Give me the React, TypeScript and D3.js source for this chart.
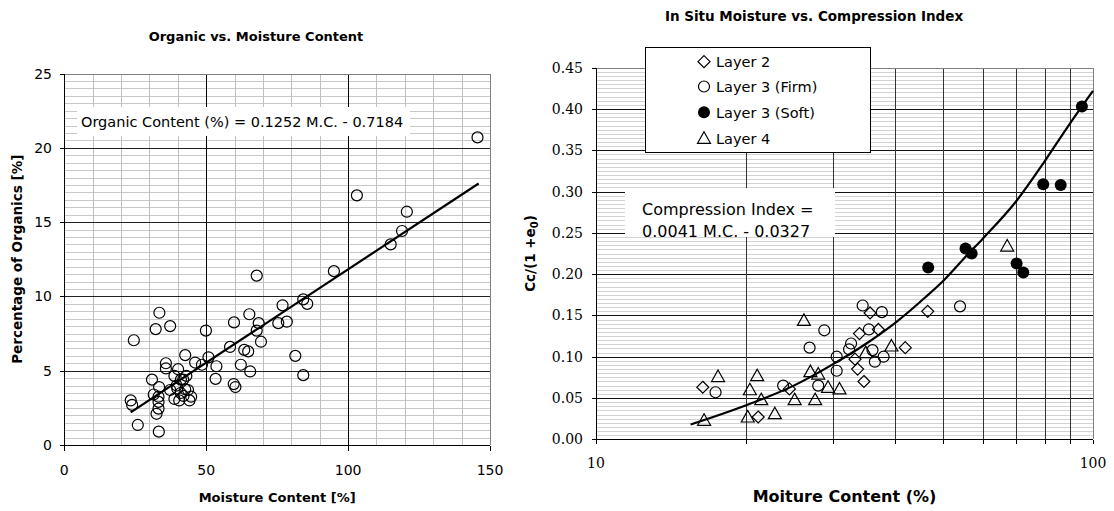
import React from 'react';
import * as d3 from 'd3';

// left chart: moisture content [%] vs percentage of organics [%]
const organicPoints = [
  [145.6, 20.7], [103.1, 16.8], [120.7, 15.7], [119, 14.4], [115, 13.5], [95, 11.7],
  [67.8, 11.4], [84.2, 9.8], [85.6, 9.5], [76.9, 9.4], [75.4, 8.2], [78.4, 8.3],
  [65.2, 8.8], [59.8, 8.25], [68.5, 8.2], [67.8, 7.7], [69.3, 6.95], [49.9, 7.7],
  [58.4, 6.6], [63.4, 6.4], [64.8, 6.3], [81.4, 6.0], [84.2, 4.7], [62.2, 5.4],
  [65.5, 4.95], [53.6, 5.3], [53.3, 4.45], [59.7, 4.1], [60.3, 3.9], [50.8, 5.9],
  [48.5, 5.4], [46.1, 5.55], [42.6, 6.05], [33.5, 8.9], [32.2, 7.8], [37.3, 8.0],
  [24.5, 7.05], [35.8, 5.5], [35.8, 5.15], [40.1, 5.1], [38.8, 4.65], [43.0, 4.65],
  [41.1, 4.4], [30.9, 4.4], [33.4, 3.9], [31.5, 3.4], [33.2, 3.25], [23.4, 3.0],
  [23.9, 2.7], [33.2, 2.9], [33.2, 2.45], [32.5, 2.1], [25.9, 1.35], [33.3, 0.9],
  [37.3, 3.7], [38.8, 3.1], [40.5, 3.0], [41.0, 3.5], [42.6, 3.75], [43.6, 3.7],
  [44.7, 3.25], [44.1, 3.0], [42.0, 3.3], [39.8, 3.8], [39.6, 4.0], [41.9, 4.4],
];
const organicTrend = [[23.4, 2.2], [146, 17.6]];
const organicXTicks = [0, 50, 100, 150];
const organicYTicks = [0, 5, 10, 15, 20, 25];

// right chart: moisture content (%) vs Cc/(1+e0), by layer
const layer2 = [
  [16.4, 0.063], [21.2, 0.027], [24.5, 0.061], [46.5, 0.155], [41.9, 0.111], [34.6, 0.070],
  [33.6, 0.085], [33.2, 0.097], [33.9, 0.128], [35.6, 0.153], [37.0, 0.133],
];
const layer3Firm = [
  [17.4, 0.057], [23.8, 0.065], [26.9, 0.111], [28.8, 0.132], [28.0, 0.065], [30.5, 0.100],
  [30.5, 0.083], [32.6, 0.116], [32.3, 0.109], [34.4, 0.162], [35.4, 0.133], [37.6, 0.154],
  [36.0, 0.108], [36.4, 0.094], [37.9, 0.100], [54.0, 0.161],
];
const layer3Soft = [
  [46.6, 0.208], [55.4, 0.231], [57.0, 0.225], [70.2, 0.213], [72.4, 0.202], [79.4, 0.309],
  [86.1, 0.308], [95.0, 0.403],
];
const layer4 = [
  [16.5, 0.023], [17.6, 0.076], [20.4, 0.060], [20.2, 0.027], [21.1, 0.077], [21.5, 0.048],
  [22.9, 0.031], [25.1, 0.048], [26.2, 0.144], [27.0, 0.082], [28.0, 0.079], [27.6, 0.048],
  [29.3, 0.063], [30.9, 0.061], [34.9, 0.105], [39.3, 0.113], [67.2, 0.234],
];
const ccTrend = [
  [15.5, 0.018], [20, 0.041], [25, 0.065], [30, 0.091], [35, 0.116], [40, 0.141], [46, 0.172],
  [50, 0.192], [56, 0.224], [60, 0.243], [70, 0.288], [80, 0.337], [90, 0.383], [100, 0.422],
];
const ccXTicks = [10, 20, 30, 40, 50, 60, 70, 80, 90, 100];
const ccXLabels = [10, 100];
const ccYTicks = [0, 0.05, 0.1, 0.15, 0.2, 0.25, 0.3, 0.35, 0.4, 0.45];
const legendItems = ['Layer 2', 'Layer 3 (Firm)', 'Layer 3 (Soft)', 'Layer 4'];

const SANS = "'DejaVu Sans', Verdana, sans-serif";
const SERIF = "'DejaVu Serif', serif";
const px = (v: number) => Math.round(v) + 0.5;

const Marker = ({ kind, x, y }: { kind: number; x: number; y: number }) => {
  if (kind === 0) {
    const s = 6;
    return <path d={`M${x},${y - s}L${x + s},${y}L${x},${y + s}L${x - s},${y}Z`} fill="none" stroke="#000" strokeWidth={1.2} />;
  }
  if (kind === 1) return <circle cx={x} cy={y} r={5.5} fill="none" stroke="#000" strokeWidth={1.2} />;
  if (kind === 2) return <circle cx={x} cy={y} r={6} fill="#000" />;
  return <path d={`M${x},${y - 6.5}L${x + 6.5},${y + 5}L${x - 6.5},${y + 5}Z`} fill="none" stroke="#000" strokeWidth={1.2} />;
};

const OrganicChart = () => {
  const x = d3.scaleLinear().domain([0, 150]).range([64.3, 490]);
  const y = d3.scaleLinear().domain([0, 25]).range([445, 73.5]);
  const [x0, x1] = x.range();
  const [y0, y1] = y.range();
  const line = d3.line().x(d => x(d[0])).y(d => y(d[1]));
  const minorV = d3.range(10, 150, 10).filter(v => v % 50 !== 0);
  const minorH = d3.range(1, 50).map(i => i * 0.5).filter(v => v % 5 !== 0);

  return (
    <g>
      <text x={256} y={41} textAnchor="middle" fontFamily={SANS} fontWeight="bold" fontSize={13}>Organic vs. Moisture Content</text>
      <g shapeRendering="crispEdges">
        {minorH.map(v => <line key={'h' + v} x1={x0} x2={x1} y1={px(y(v))} y2={px(y(v))} stroke="#c8c8c8" />)}
        {minorV.map(v => <line key={'v' + v} x1={px(x(v))} x2={px(x(v))} y1={y1} y2={y0} stroke="#c0c0c0" />)}
        {[5, 10, 15, 20].map(v => <line key={'H' + v} x1={x0} x2={x1} y1={px(y(v))} y2={px(y(v))} stroke="#222" />)}
        {[50, 100].map(v => <line key={'V' + v} x1={px(x(v))} x2={px(x(v))} y1={y1} y2={y0} stroke="#000" />)}
        <line x1={x0} x2={x1} y1={px(y1)} y2={px(y1)} stroke="#808080" />
        <line x1={px(x1)} x2={px(x1)} y1={y1} y2={y0} stroke="#808080" />
        <line x1={px(x0)} x2={px(x0)} y1={y1} y2={y0} stroke="#000" />
        <line x1={x0} x2={x1} y1={px(y0)} y2={px(y0)} stroke="#000" />
        {organicYTicks.map(v => <line key={'yt' + v} x1={px(x0) - 5} x2={px(x0)} y1={px(y(v))} y2={px(y(v))} stroke="#000" />)}
        {organicXTicks.map(v => <line key={'xt' + v} x1={px(x(v))} x2={px(x(v))} y1={px(y0)} y2={px(y0) + 5} stroke="#000" />)}
      </g>
      {organicYTicks.map(v => (
        <text key={'yl' + v} x={52} y={y(v)} dy="0.36em" textAnchor="end" fontFamily={SANS} fontSize={14}>{v}</text>
      ))}
      {organicXTicks.map(v => (
        <text key={'xl' + v} x={x(v)} y={470} dy="0.36em" textAnchor="middle" fontFamily={SANS} fontSize={14}>{v}</text>
      ))}
      <rect x={77} y={107} width={333} height={29} fill="#fff" />
      <text x={81} y={121.5} dy="0.36em" fontFamily={SANS} fontSize={14.5}>Organic Content (%) = 0.1252 M.C. - 0.7184</text>
      {organicPoints.map((d, i) => <circle key={i} cx={x(d[0])} cy={y(d[1])} r={5.5} fill="none" stroke="#000" strokeWidth={1.2} />)}
      <path d={line(organicTrend as [number, number][]) || ''} fill="none" stroke="#000" strokeWidth={2.2} />
      <text x={(x0 + x1) / 2} y={502} textAnchor="middle" fontFamily={SANS} fontWeight="bold" fontSize={13}>Moisture Content [%]</text>
      <text transform={`translate(22,${(y0 + y1) / 2}) rotate(-90)`} textAnchor="middle" fontFamily={SANS} fontWeight="bold" fontSize={13.5}>Percentage of Organics [%]</text>
    </g>
  );
};

const CompressionChart = () => {
  const x = d3.scaleLog().domain([10, 100]).range([596, 1093]);
  const y = d3.scaleLinear().domain([0, 0.45]).range([439.3, 67.7]);
  const [x0, x1] = x.range();
  const [y0, y1] = y.range();
  const fmt = d3.format('.2f');
  const curve = d3.line().x(d => x(d[0])).y(d => y(d[1])).curve(d3.curveMonotoneX);
  const minorH = d3.range(1, 90).filter(i => i % 10 !== 0).map(i => i * 0.005);
  const majorH = ccYTicks.slice(1, -1);
  const series = [layer2, layer3Firm, layer3Soft, layer4];
  const legendY = [61.7, 86.5, 112.3, 138.3];

  return (
    <g>
      <text x={814} y={20.5} textAnchor="middle" fontFamily={SANS} fontWeight="bold" fontSize={13.5}>In Situ Moisture vs. Compression Index</text>
      <g shapeRendering="crispEdges">
        {minorH.map(v => <line key={'h' + v} x1={x0} x2={x1} y1={px(y(v))} y2={px(y(v))} stroke="#d2d2d2" />)}
        {majorH.map(v => <line key={'H' + v} x1={x0} x2={x1} y1={px(y(v))} y2={px(y(v))} stroke="#111" />)}
        {ccXTicks.slice(1, -1).map(v => <line key={'V' + v} x1={px(x(v))} x2={px(x(v))} y1={y1} y2={y0} stroke="#333" />)}
        <line x1={x0} x2={x1} y1={px(y1)} y2={px(y1)} stroke="#808080" />
        <line x1={px(x1)} x2={px(x1)} y1={y1} y2={y0} stroke="#808080" />
        <line x1={px(x0)} x2={px(x0)} y1={y1} y2={y0} stroke="#000" />
        <line x1={x0} x2={x1} y1={px(y0)} y2={px(y0)} stroke="#000" />
        {ccYTicks.map(v => <line key={'yt' + v} x1={px(x0) - 5} x2={px(x0)} y1={px(y(v))} y2={px(y(v))} stroke="#000" />)}
        {ccXTicks.map(v => <line key={'xt' + v} x1={px(x(v))} x2={px(x(v))} y1={px(y0)} y2={px(y0) + 4} stroke="#000" />)}
      </g>
      {ccYTicks.map(v => (
        <text key={'yl' + v} x={583} y={y(v)} dy="0.36em" textAnchor="end" fontFamily={SERIF} fontSize={14}>{fmt(v)}</text>
      ))}
      {ccXLabels.map(v => (
        <text key={'xl' + v} x={x(v)} y={463} dy="0.36em" textAnchor="middle" fontFamily={SERIF} fontSize={14}>{v}</text>
      ))}
      <rect x={625} y={188} width={210} height={49} fill="#fff" />
      <text x={642} y={209} dy="0.36em" fontFamily={SANS} fontSize={16}>Compression Index =</text>
      <text x={642} y={231} dy="0.36em" fontFamily={SANS} fontSize={16}>0.0041 M.C. - 0.0327</text>
      <path d={curve(ccTrend as [number, number][]) || ''} fill="none" stroke="#000" strokeWidth={2.2} />
      {series.map((s, k) => s.map((d, i) => <Marker key={k + '-' + i} kind={k} x={x(d[0])} y={y(d[1])} />))}
      <rect x={645.5} y={47.5} width={225} height={105} fill="#fff" stroke="#000" />
      {legendItems.map((t, k) => (
        <g key={t}>
          <Marker kind={k} x={704} y={legendY[k]} />
          <text x={716} y={legendY[k]} dy="0.36em" fontFamily={SANS} fontSize={14.5}>{t}</text>
        </g>
      ))}
      <text x={(x0 + x1) / 2} y={502} textAnchor="middle" fontFamily={SANS} fontWeight="bold" fontSize={16}>Moiture Content (%)</text>
      <text transform={`translate(535,${(y0 + y1) / 2}) rotate(-90)`} textAnchor="middle" fontFamily={SANS} fontWeight="bold" fontSize={13.5}>
        Cc/(1 +e<tspan dy={3} fontSize={10}>0</tspan><tspan dy={-3}>)</tspan>
      </text>
    </g>
  );
};

export default function App() {
  return (
    <svg width={1114} height={511} style={{ position: 'absolute', left: 0, top: 0, background: '#fff' }}>
      <rect width={1114} height={511} fill="#fff" />
      <OrganicChart />
      <CompressionChart />
    </svg>
  );
}
